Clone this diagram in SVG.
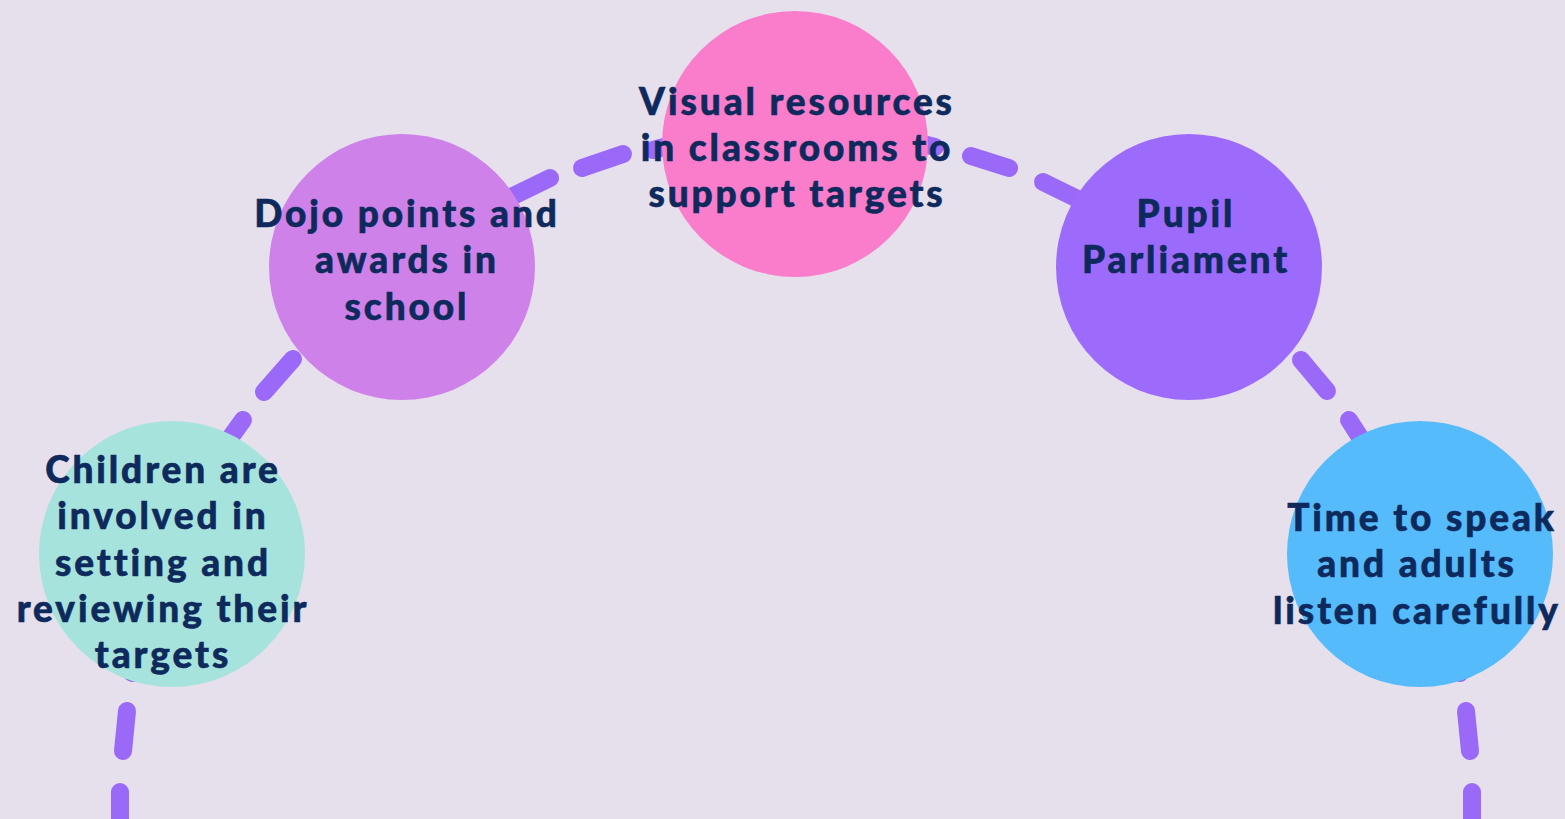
<svg xmlns="http://www.w3.org/2000/svg" width="1565" height="819" viewBox="0 0 1565 819">
<style>
.bg{fill:#E6E0EC}
.dash{stroke:#9B69F7;stroke-width:18;stroke-linecap:round;fill:none}
.lbl{font-family:"Lato","Open Sans",sans-serif;font-weight:900;font-size:37px;letter-spacing:2.9px;fill:#0E2A5C;text-anchor:middle;stroke:#0E2A5C;stroke-width:0.6px}
</style>
<rect class="bg" x="0" y="0" width="1565" height="819"/>
<g id="connectors">
<line class="dash" x1="120" y1="792" x2="120" y2="835"/>
<line class="dash" x1="127" y1="711" x2="123" y2="751"/>
<line class="dash" x1="138" y1="640" x2="132" y2="673"/>
<line class="dash" x1="243" y1="420" x2="225" y2="445"/>
<line class="dash" x1="293" y1="359" x2="264" y2="392"/>
<line class="dash" x1="550" y1="178" x2="505" y2="200"/>
<line class="dash" x1="582" y1="168" x2="623" y2="154"/>
<line class="dash" x1="653" y1="150" x2="690" y2="140"/>
<line class="dash" x1="915" y1="142" x2="935" y2="147"/>
<line class="dash" x1="971" y1="156" x2="1009" y2="168"/>
<line class="dash" x1="1043" y1="182" x2="1090" y2="205"/>
<line class="dash" x1="1301" y1="360" x2="1327" y2="391"/>
<line class="dash" x1="1349" y1="420" x2="1365" y2="445"/>
<line class="dash" x1="1455" y1="640" x2="1460" y2="673"/>
<line class="dash" x1="1466" y1="711" x2="1470" y2="751"/>
<line class="dash" x1="1472" y1="792" x2="1472" y2="835"/>
</g>
<g id="node-children">
<circle cx="172" cy="554" r="133" fill="#A6E3DC"/>
<text class="lbl" x="163" y="483">Children are</text>
<text class="lbl" x="163" y="529">involved in</text>
<text class="lbl" x="163" y="576">setting and</text>
<text class="lbl" x="163" y="622">reviewing their</text>
<text class="lbl" x="163" y="668">targets</text>
</g>
<g id="node-dojo">
<circle cx="402" cy="267" r="133" fill="#CE82E9"/>
<text class="lbl" x="407" y="227">Dojo points and</text>
<text class="lbl" x="407" y="273">awards in</text>
<text class="lbl" x="407" y="320">school</text>
</g>
<g id="node-visual">
<circle cx="795" cy="144" r="133" fill="#F97DCB"/>
<text class="lbl" x="797" y="115">Visual resources</text>
<text class="lbl" x="797" y="161">in classrooms to</text>
<text class="lbl" x="797" y="207">support targets</text>
</g>
<g id="node-pupil">
<circle cx="1189" cy="267" r="133" fill="#9D6BFB"/>
<text class="lbl" x="1186" y="227">Pupil</text>
<text class="lbl" x="1186" y="273">Parliament</text>
</g>
<g id="node-time">
<circle cx="1420" cy="554" r="133" fill="#56BBFA"/>
<text class="lbl" x="1422" y="531">Time to speak</text>
<text class="lbl" x="1417" y="577">and adults</text>
<text class="lbl" x="1417" y="624">listen carefully</text>
</g>
</svg>
